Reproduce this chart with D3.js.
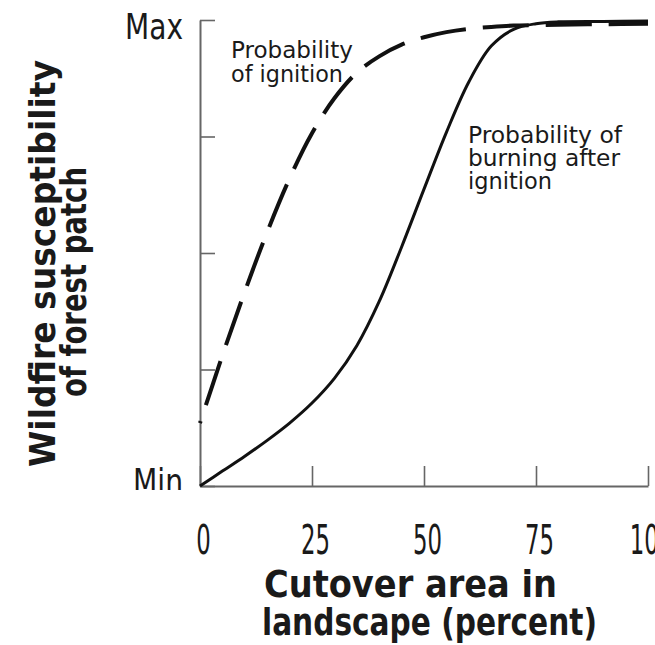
<!DOCTYPE html>
<html>
<head>
<meta charset="utf-8">
<script src="https://cdn.jsdelivr.net/npm/d3@7/dist/d3.min.js"></script>
<style>
  html, body { margin: 0; padding: 0; background: #fff; }
  svg { display: block; }
  text { font-family: "Liberation Sans Narrow", "DejaVu Sans Condensed", "Roboto", sans-serif; fill: #1a1a1a; }
</style>
</head>
<body>
<svg id="chart" width="655" height="645"></svg>
<script>
// Cutover area in landscape (percent)
const cutover = [0, 5, 10, 15, 20, 25, 30, 35, 40, 45, 50, 55, 60, 65, 70, 75, 80, 90, 100];
// Relative wildfire susceptibility (0 = Min, 1 = Max)
const probIgnition = [0.135, 0.28, 0.417, 0.545, 0.66, 0.757, 0.832, 0.887, 0.922, 0.947, 0.963, 0.974, 0.981, 0.985, 0.988, 0.989, 0.99, 0.991, 0.992];
const probBurning  = [0, 0.032, 0.064, 0.098, 0.135, 0.178, 0.231, 0.301, 0.396, 0.513, 0.637, 0.759, 0.867, 0.944, 0.98, 0.992, 0.996, 0.997, 0.998];
// Axis ticks
const xTicks = [0, 25, 50, 75, 100];
const yTicks = [0, 0.25, 0.5, 0.75, 1];
const yTickLabels = { 0: "Min", 1: "Max" };

const svg = d3.select("#chart");
const x = d3.scaleLinear().domain([0, 100]).range([200, 648]);
const y = d3.scaleLinear().domain([0, 1]).range([486, 20]);

// the "Min" label is trimmed just under the x axis
svg.append("defs").append("clipPath").attr("id", "minClip")
  .append("rect").attr("x", 0).attr("y", 0).attr("width", 655).attr("height", 490);

// x axis: inward ticks, labels set well below the line
const gx = svg.append("g").attr("transform", `translate(0,${y(0)})`)
  .call(d3.axisBottom(x).tickValues(xTicks).tickSize(-20).tickSizeOuter(0).tickPadding(39).tickFormat(d3.format("d")));
gx.select(".domain").attr("stroke", "#666").attr("stroke-width", 2);
gx.selectAll(".tick line").attr("stroke", "#666").attr("stroke-width", 1.6);
gx.selectAll(".tick text")
  .attr("font-size", 41).attr("fill", "#1a1a1a").attr("dx", 3)
  .attr("textLength", d => String(d).length * 14.5)
  .attr("lengthAdjust", "spacingAndGlyphs");

// y axis: Min / Max only
const gyWrap = svg.append("g").attr("clip-path", "url(#minClip)");
const gy = gyWrap.append("g").attr("transform", `translate(${x(0)},0)`)
  .call(d3.axisLeft(y).tickValues(yTicks).tickSize(-15).tickSizeOuter(0).tickPadding(17)
    .tickFormat(d => yTickLabels[d] || ""));
gy.select(".domain").attr("stroke", "#666").attr("stroke-width", 2);
gy.selectAll(".tick line").attr("stroke", "#666").attr("stroke-width", 1.6);
gy.selectAll(".tick text")
  .attr("font-size", 35).attr("fill", "#1a1a1a")
  .attr("dy", d => d === 1 ? 18 : 7)
  .attr("textLength", d => d === 1 ? 58 : (d === 0 ? 50 : null))
  .attr("lengthAdjust", "spacingAndGlyphs");

// curves
const line = (vals) => d3.line()
  .x((d, i) => x(cutover[i]))
  .y(d => y(d))
  .curve(d3.curveCatmullRom.alpha(0.5))(vals);

svg.append("path").attr("d", line(probBurning))
  .attr("fill", "none").attr("stroke", "#111").attr("stroke-width", 3);

svg.append("path").attr("d", line(probIgnition))
  .attr("fill", "none").attr("stroke", "#111").attr("stroke-width", 4)
  .attr("stroke-dasharray", "46,17").attr("stroke-dashoffset", 44);

// curve annotations
function block(lines, x0, y0, lh, size, widths) {
  const t = svg.append("text").attr("font-size", size).attr("fill", "#2a2a2a");
  lines.forEach((s, i) => {
    t.append("tspan").attr("x", x0).attr("y", y0 + i * lh).text(s)
      .attr("textLength", widths[i]).attr("lengthAdjust", "spacingAndGlyphs");
  });
}
block(["Probability", "of ignition"], 231, 58, 23.5, 23, [122, 112]);
block(["Probability of", "burning after", "ignition"], 468, 143, 23, 23, [154, 152, 84]);

// axis titles
const xt = svg.append("text").attr("font-size", 38).attr("font-weight", "bold").attr("fill", "#111");
xt.append("tspan").attr("x", 264).attr("y", 597).text("Cutover area in")
  .attr("textLength", 293).attr("lengthAdjust", "spacingAndGlyphs");
xt.append("tspan").attr("x", 262).attr("y", 635).text("landscape (percent)")
  .attr("textLength", 335).attr("lengthAdjust", "spacingAndGlyphs");

const yt = svg.append("g").attr("font-size", 36).attr("font-weight", "bold");
yt.append("text").attr("transform", "translate(55,263.5) rotate(-90)")
  .attr("text-anchor", "middle").attr("fill", "#111").text("Wildfire susceptibility")
  .attr("textLength", 407).attr("lengthAdjust", "spacingAndGlyphs");
yt.append("text").attr("transform", "translate(86,282) rotate(-90)")
  .attr("text-anchor", "middle").attr("fill", "#111").text("of forest patch")
  .attr("textLength", 230).attr("lengthAdjust", "spacingAndGlyphs");
</script>
</body>
</html>
